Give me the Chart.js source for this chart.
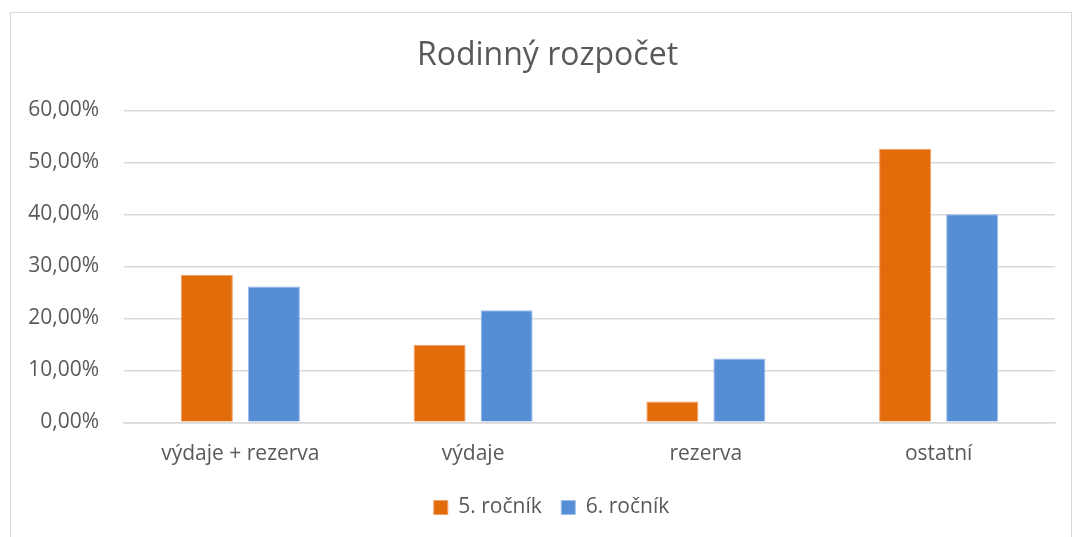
<!DOCTYPE html>
<html>
<head>
<meta charset="utf-8">
<script src="https://cdn.jsdelivr.net/npm/chart.js@4.4.0/dist/chart.umd.min.js"></script>
<style>
  html, body { margin: 0; padding: 0; background: #fff; }
  body { width: 1074px; height: 537px; position: relative; overflow: hidden; }
  #frame { position: absolute; left: 10px; top: 12px; width: 1062px; height: 560px; border: 1px solid #d9d9d9; box-sizing: border-box; }
  #wrap { position: absolute; left: 0; top: 0; width: 1074px; height: 537px; }
</style>
</head>
<body>
<div id="frame"></div>
<div id="wrap"><canvas id="barChart"></canvas></div>
<script>
// categories and series (percent)
const categories = ['výdaje + rezerva', 'výdaje', 'rezerva', 'ostatní'];
const rocnik5 = [28.4, 14.85, 4.0, 52.6];
const rocnik6 = [26.1, 21.55, 12.25, 40.0];
const seriesNames = ['5. ročník', '6. ročník'];

const textColor = '#595959';
const gridColor = '#d9d9d9';
const fontFamily = '"Open Sans", Lato, sans-serif';

const pct = v => v.toFixed(2).replace('.', ',') + '%';

// nudge title and legend to the right, the original centres them on the frame
const shiftBoxes = {
    id: 'shiftBoxes',
    afterLayout(chart) {
        const move = (box, dx) => {
            if (!box) return;
            box.left += dx;
            box.right += dx;
        };
        move(chart.titleBlock, 20);
        move(chart.legend, 24);
    }
};

new Chart(document.getElementById('barChart'), {
    type: 'bar',
    data: {
        labels: categories,
        datasets: [
            {
                label: seriesNames[0],
                data: rocnik5,
                backgroundColor: '#e36c0a',
                borderColor: '#f0a06a',
                borderWidth: 1,
                categoryPercentage: 0.576,
                barPercentage: 0.776
            },
            {
                label: seriesNames[1],
                data: rocnik6,
                backgroundColor: '#558ed5',
                borderColor: '#9dbce8',
                borderWidth: 1,
                categoryPercentage: 0.576,
                barPercentage: 0.776
            }
        ]
    },
    plugins: [shiftBoxes],
    options: {
        responsive: true,
        maintainAspectRatio: false,
        animation: false,
        layout: { padding: { left: 0, right: 19, top: 0, bottom: 9 } },
        plugins: {
            title: {
                display: true,
                text: 'Rodinný rozpočet',
                color: textColor,
                font: { family: fontFamily, size: 32, weight: '400' },
                padding: { top: 37, bottom: 35 }
            },
            legend: {
                position: 'bottom',
                labels: {
                    color: textColor,
                    font: { family: fontFamily, size: 21 },
                    boxWidth: 14,
                    boxHeight: 14,
                    padding: 19.5
                }
            },
            tooltip: { enabled: false }
        },
        scales: {
            x: {
                grid: { display: false },
                border: { color: gridColor, width: 1.5 },
                ticks: { color: textColor, font: { family: fontFamily, size: 21 }, padding: 11 }
            },
            y: {
                min: 0,
                max: 60,
                afterFit: scale => { scale.width = 124; },
                grid: { color: gridColor, lineWidth: 1.5, drawTicks: false },
                border: { display: false },
                ticks: {
                    stepSize: 10,
                    color: textColor,
                    font: { family: fontFamily, size: 21 },
                    padding: 25,
                    callback: v => pct(v)
                }
            }
        }
    }
});
</script>
</body>
</html>
